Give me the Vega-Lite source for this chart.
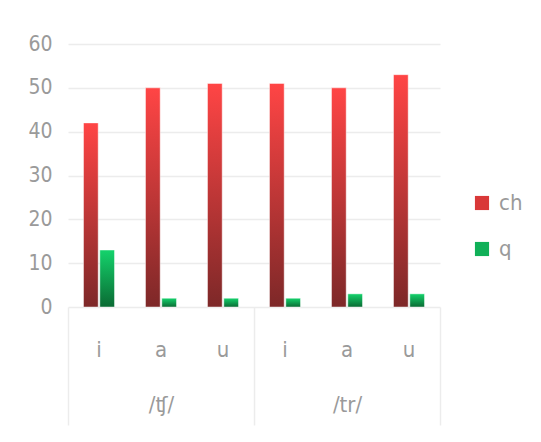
{
  "$schema": "https://vega.github.io/schema/vega-lite/v6.json",
  "width": 372,
  "height": 263,
  "autosize": {"type": "none"},
  "padding": {"left": 68, "top": 44, "right": 101, "bottom": 135},
  "background": "white",
  "config": {
    "view": {"stroke": null},
    "font": "DejaVu Sans Condensed",
    "axis": {"labelFont": "DejaVu Sans Condensed", "labelColor": "#9a9a9a"}
  },
  "data": {
    "values": [
      {"group": "/ʧ/", "vowel": "i", "key": "ʧ|i", "series": "ch", "value": 42},
      {"group": "/ʧ/", "vowel": "i", "key": "ʧ|i", "series": "q", "value": 13},
      {"group": "/ʧ/", "vowel": "a", "key": "ʧ|a", "series": "ch", "value": 50},
      {"group": "/ʧ/", "vowel": "a", "key": "ʧ|a", "series": "q", "value": 2},
      {"group": "/ʧ/", "vowel": "u", "key": "ʧ|u", "series": "ch", "value": 51},
      {"group": "/ʧ/", "vowel": "u", "key": "ʧ|u", "series": "q", "value": 2},
      {"group": "/tr/", "vowel": "i", "key": "tr|i", "series": "ch", "value": 51},
      {"group": "/tr/", "vowel": "i", "key": "tr|i", "series": "q", "value": 2},
      {"group": "/tr/", "vowel": "a", "key": "tr|a", "series": "ch", "value": 50},
      {"group": "/tr/", "vowel": "a", "key": "tr|a", "series": "q", "value": 3},
      {"group": "/tr/", "vowel": "u", "key": "tr|u", "series": "ch", "value": 53},
      {"group": "/tr/", "vowel": "u", "key": "tr|u", "series": "q", "value": 3}
    ]
  },
  "layer": [
    {
      "encoding": {
        "x": {
          "field": "key", "type": "nominal", "sort": null,
          "scale": {"paddingInner": 0.5, "paddingOuter": 0.25},
          "axis": {
            "title": null, "domain": false, "ticks": false, "labelAngle": 0,
            "labelExpr": "split(datum.label, '|')[1]",
            "labelFontSize": 22, "labelPadding": 42, "labelBaseline": "middle"
          }
        },
        "xOffset": {"field": "series", "type": "nominal", "scale": {"domain": ["ch", "q"], "paddingInner": 0.1}},
        "y": {
          "field": "value", "type": "quantitative",
          "scale": {"domain": [0, 60]},
          "axis": {
            "title": null, "values": [0, 10, 20, 30, 40, 50, 60], "domain": false, "ticks": false,
            "gridColor": "#ececec", "gridWidth": 1.5, "labelFontSize": 21, "labelPadding": 16
          }
        }
      },
      "layer": [
        {
          "transform": [{"filter": "datum.series === 'ch'"}],
          "mark": {
            "type": "bar", "stroke": "#ffffff", "strokeOpacity": 0.45, "strokeWidth": 1,
            "fill": {"gradient": "linear", "x1": 0, "y1": 0, "x2": 0, "y2": 1,
              "stops": [{"offset": 0, "color": "#ff4545"}, {"offset": 1, "color": "#7d2828"}]}
          }
        },
        {
          "transform": [{"filter": "datum.series === 'q'"}],
          "mark": {
            "type": "bar", "stroke": "#ffffff", "strokeOpacity": 0.45, "strokeWidth": 1,
            "fill": {"gradient": "linear", "x1": 0, "y1": 0, "x2": 0, "y2": 1,
              "stops": [{"offset": 0, "color": "#14d36c"}, {"offset": 1, "color": "#0a6a33"}]}
          }
        }
      ]
    },
    {
      "mark": {"type": "rule", "opacity": 0},
      "encoding": {
        "x": {
          "field": "group", "type": "nominal", "sort": null,
          "axis": {
            "title": null, "orient": "bottom", "domain": false, "labelAngle": 0,
            "tickBand": "extent", "tickSize": 118, "tickColor": "#ececec", "tickWidth": 1.5,
            "labelFontSize": 22, "labelPadding": -21, "labelBaseline": "middle"
          }
        }
      }
    },
    {
      "transform": [{"filter": "false"}],
      "mark": {"type": "square"},
      "encoding": {
        "fill": {
          "field": "series", "type": "nominal",
          "scale": {"domain": ["ch", "q"], "range": ["#d93838", "#10b058"]},
          "legend": {
            "title": null, "orient": "none", "legendX": 403, "legendY": 148,
            "symbolType": "square", "symbolSize": 200, "symbolStrokeWidth": 0, "symbolOpacity": 1,
            "labelFontSize": 22, "labelColor": "#9a9a9a", "labelFont": "DejaVu Sans Condensed",
            "rowPadding": 24, "labelOffset": 6
          }
        }
      }
    }
  ],
  "resolve": {"scale": {"x": "independent"}, "axis": {"x": "independent"}}
}
